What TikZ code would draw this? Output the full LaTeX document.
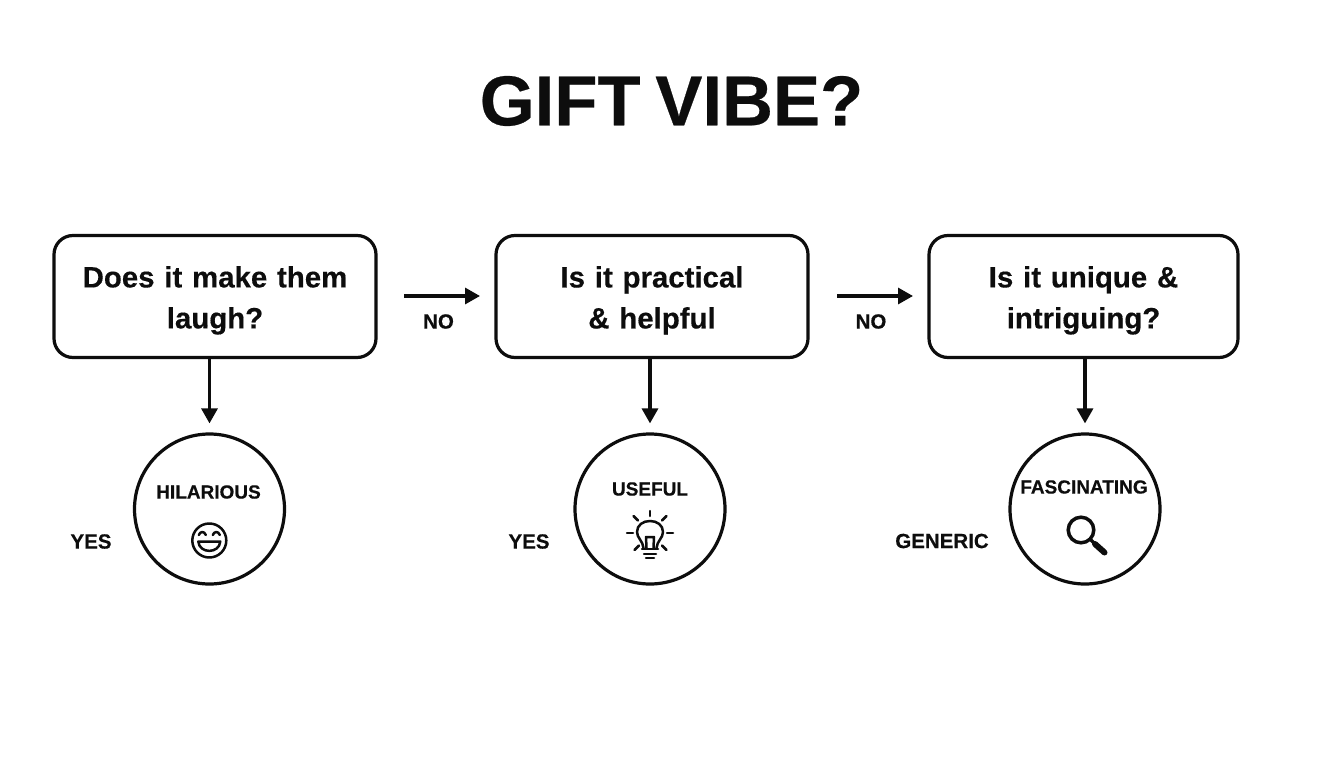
\documentclass[tikz,border=0pt]{standalone}
\usepackage{fontspec}
\setmainfont[BoldFeatures={FakeBold=0.35,WordSpace=0.75}]{Liberation Sans}
\usetikzlibrary{arrows.meta}
\newcommand{\qstrut}{\rule{0pt}{29pt}}
\tikzset{
  qbox/.style={draw=ink,line width=3.2pt,rounded corners=19pt,fill=white,inner sep=0pt,align=center,font=\fontsize{29.4}{41}\selectfont\bfseries,text=ink},
  res/.style={draw=ink,line width=3.2pt,circle,minimum size=150pt,inner sep=0pt,fill=white},
  lab/.style={font=\fontsize{20.5}{25}\selectfont\bfseries,text=ink,inner sep=0pt},
  reslab/.style={font=\fontsize{19}{24}\selectfont\bfseries,text=ink,inner sep=0pt},
  flow/.style={draw=ink,line width=3.2pt,-{Triangle[length=15pt,width=16pt]}},
  icon/.style={draw=ink,line width=2.5pt,line cap=round,line join=round},
}
\definecolor{ink}{HTML}{0D0D0D}
\begin{document}
\begin{tikzpicture}[x=1pt,y=-1pt]
\useasboundingbox (0,0) rectangle (1344,768);
\fill[white] (0,0) rectangle (1344,768);
\node[font=\fontsize{70.6}{80}\selectfont\bfseries,text=ink,inner sep=0pt] (title) at (671.5,101) {GIFT VIBE?};
\node[qbox,minimum width=322pt,minimum height=122pt,text width=322pt] (q1) at (215,296.5) {\qstrut Does it make them\\laugh?};
\node[qbox,minimum width=312pt,minimum height=122pt,text width=312pt] (q2) at (652,296.5) {\qstrut Is it practical\\\& helpful};
\node[qbox,minimum width=309pt,minimum height=122pt,text width=309pt] (q3) at (1083.5,296.5) {\qstrut Is it unique \&\\intriguing?};
\node[res] (c1) at (209.5,509) {};
\node[res] (c2) at (650,509) {};
\node[res] (c3) at (1085,509) {};
\draw[flow] (q1.south -| c1.north) -- ([yshift=9pt]c1.north);
\draw[flow] (q2.south -| c2.north) -- ([yshift=9pt]c2.north);
\draw[flow] (q3.south -| c3.north) -- ([yshift=9pt]c3.north);
\coordinate (a1s) at (404,296); \coordinate (a1e) at (480,296);
\coordinate (a2s) at (837,296); \coordinate (a2e) at (913,296);
\draw[flow] (a1s) -- (a1e);
\draw[flow] (a2s) -- (a2e);
\node[lab] (no1) at (438.5,321.5) {NO};
\node[lab] (no2) at (871,321.5) {NO};
\node[lab] (y1) at (91,541.5) {YES};
\node[lab] (y2) at (529,541.5) {YES};
\node[lab] (g) at (942,541) {GENERIC};
\node[reslab] (t1) at (208.5,492) {HILARIOUS};
\node[reslab] (t2) at (650,489) {USEFUL};
\node[reslab] (t3) at (1084,487) {FASCINATING};
% laughing face
\begin{scope}[shift={(209.3,540.5)}]
\draw[icon] (0,0) circle (17);
\draw[icon] (-10.5,-5.5) .. controls (-9,-9.5) and (-5,-9.5) .. (-3.5,-5.5);
\draw[icon] (3.5,-5.5) .. controls (5,-9.5) and (9,-9.5) .. (10.5,-5.5);
\draw[icon] (-11,1) -- (11,1) .. controls (10,13.5) and (-10,13.5) .. (-11,1) -- cycle;
\end{scope}
% light bulb
\begin{scope}[shift={(650,533)}]
\draw[icon] (-6.5,15) .. controls (-7,8) and (-13,5) .. (-13,-1) .. controls (-13,-8) and (-7,-12) .. (0,-12) .. controls (7,-12) and (13,-8) .. (13,-1) .. controls (13,5) and (7,8) .. (6.5,15);
\draw[icon] (-3.5,15) -- (-4,4) -- (4,4) -- (3.5,15);
\draw[icon] (-8,16) -- (8,16);
\draw[icon] (-6,21) -- (6,21);
\draw[icon] (-4,25) -- (4,25);
\draw[icon] (0,-22) -- (0,-17);
\draw[icon] (-16.5,-17) -- (-12,-12.5);
\draw[icon] (16.5,-17) -- (12,-12.5);
\draw[icon] (-23,0) -- (-17,0);
\draw[icon] (23,0) -- (17,0);
\draw[icon] (-15.5,17) -- (-11,12.5);
\draw[icon] (16.5,17) -- (12,12.5);
\end{scope}
% magnifier
\begin{scope}[shift={(1083,530)}]
\draw[draw=ink,line width=3.5pt] (-2,0) circle (12.8);
\draw[draw=ink,line width=3.2pt] (7,9) -- (12,14);
\draw[draw=ink,line width=6pt,line cap=round] (12,14) -- (21.5,22.5);
\end{scope}
\end{tikzpicture}
\end{document}
